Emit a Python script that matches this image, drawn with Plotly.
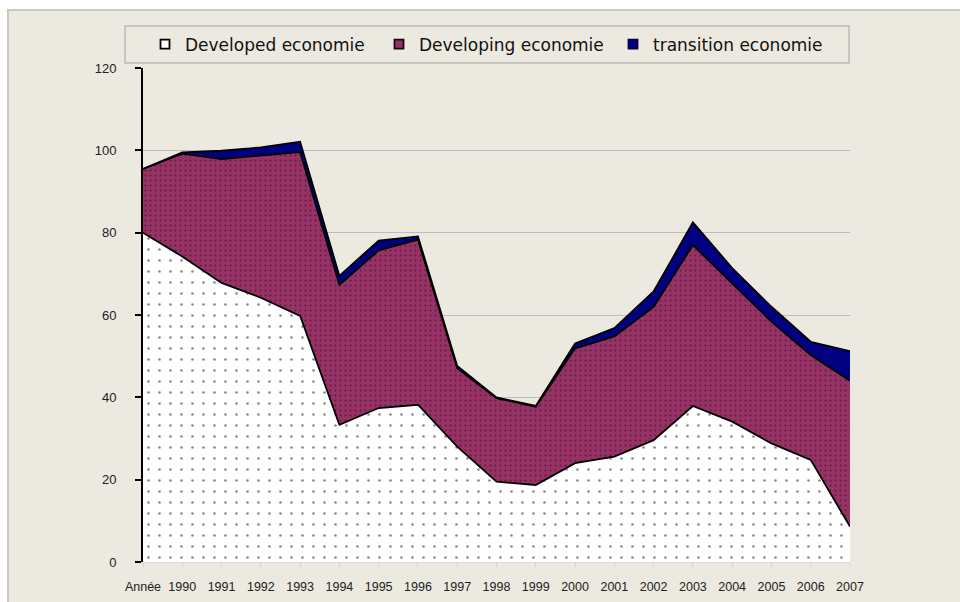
import plotly.graph_objects as go

# Category axis: first slot is the header row "Année", then the years
categories = ["Année", "1990", "1991", "1992", "1993", "1994", "1995", "1996", "1997",
              "1998", "1999", "2000", "2001", "2002", "2003", "2004", "2005", "2006", "2007"]

developed = [80.0, 74.2, 67.8, 64.2, 59.8, 33.3, 37.4, 38.2, 28.0,
             19.5, 18.7, 24.0, 25.6, 29.6, 37.9, 34.1, 28.8, 24.8, 8.6]
developing = [15.5, 25.0, 30.1, 34.5, 39.8, 34.0, 38.3, 40.1, 19.1,
              20.3, 19.0, 27.9, 29.2, 32.4, 39.1, 33.6, 29.6, 25.5, 35.4]
transition = [0.0, 0.3, 2.0, 2.0, 2.5, 2.2, 2.4, 0.8, 0.5,
              0.2, 0.2, 1.2, 2.0, 3.7, 5.5, 3.7, 3.6, 3.2, 7.2]

y_ticks = [0, 20, 40, 60, 80, 100, 120]
grid_vals = [20, 40, 60, 80, 100]

series_names = ["Developed economie", "Developing economie", "transition economie"]

# page geometry (pixels)
W, H = 960, 602
PL, PR, PT, PB = 143, 850, 68, 562
BEIGE = "#ECE9E0"


def px_x(p):
    return (p - PL) / (PR - PL)


def px_y(p):
    return (PB - p) / (PB - PT)


fig = go.Figure()

area_styles = [
    dict(fillpattern=dict(shape=".", bgcolor="#FFFFFF", fgcolor="#111111", size=11, solidity=0.045)),
    dict(fillpattern=dict(shape=".", bgcolor="#963265", fgcolor="#220614", size=5, solidity=0.13)),
    dict(fillcolor="#000080"),
]

for name, vals, st in zip(series_names, [developed, developing, transition], area_styles):
    fig.add_trace(go.Scatter(
        x=categories, y=vals, name=name, mode="lines", stackgroup="one",
        line=dict(color="#000000", width=1.8, shape="linear"),
        showlegend=False, hoverinfo="x+y+name", **st,
    ))

# legend swatches
legend_marks = [
    dict(color="#FFFFFF", line=dict(color="#000000", width=1.8)),
    dict(color="#963265", line=dict(color="#1A0010", width=1.8)),
    dict(color="#000080", line=dict(color="#000040", width=1.8)),
]
for name, mk in zip(series_names, legend_marks):
    fig.add_trace(go.Scatter(
        x=[None], y=[None], name=name, mode="markers",
        marker=dict(symbol="square", size=9, **mk), showlegend=True,
    ))

shapes = [
    # chart frame
    dict(type="rect", xref="paper", yref="paper", layer="below",
         x0=px_x(8), x1=px_x(W + 10), y0=px_y(H + 10), y1=px_y(10),
         fillcolor=BEIGE, line=dict(color="#C9C7C0", width=2)),
    # legend box
    dict(type="rect", xref="paper", yref="paper", layer="above",
         x0=px_x(125), x1=px_x(849), y0=px_y(63), y1=px_y(26),
         fillcolor="rgba(0,0,0,0)", line=dict(color="#BDBBB4", width=1.5)),
]

fig.update_layout(
    width=W, height=H,
    margin=dict(l=PL, r=W - PR, t=PT, b=H - PB, pad=0),
    paper_bgcolor="#FFFFFF",
    plot_bgcolor=BEIGE,
    font=dict(family="Liberation Sans, Arial, sans-serif", size=13, color="#222222"),
    showlegend=True,
    legend=dict(
        orientation="h", x=px_x(145), y=px_y(44.5), xanchor="left", yanchor="middle",
        bgcolor="rgba(0,0,0,0)", borderwidth=0,
        entrywidth=189, entrywidthmode="pixels",
        font=dict(family="DejaVu Sans, sans-serif", size=17, color="#111111"),
        traceorder="normal", itemclick=False,
    ),
    shapes=shapes,
    xaxis=dict(
        type="category", categoryorder="array", categoryarray=categories,
        range=[0, len(categories) - 1], automargin=False,
        showgrid=False, zeroline=False,
        showline=True, linecolor="#DADADA", linewidth=1,
        ticks="outside", ticklen=4, tickcolor="#D4D4D4", tickwidth=1,
        ticklabelstandoff=9,
        tickfont=dict(family="Liberation Sans, Arial, sans-serif", size=12.5, color="#222222"),
    ),
    yaxis=dict(
        range=[0, 120], tickmode="array", tickvals=y_ticks, automargin=False,
        showgrid=False, zeroline=False,
        showline=True, linecolor="#000000", linewidth=2,
        ticks="outside", ticklen=6, tickcolor="#000000", tickwidth=2,
        ticklabelstandoff=16,
        tickfont=dict(family="Liberation Sans, Arial, sans-serif", size=13, color="#222222"),
        minor=dict(tickmode="array", tickvals=grid_vals, showgrid=True,
                   gridcolor="#BDBDBD", gridwidth=1, ticks=""),
    ),
)

fig.write_html("out.html")
